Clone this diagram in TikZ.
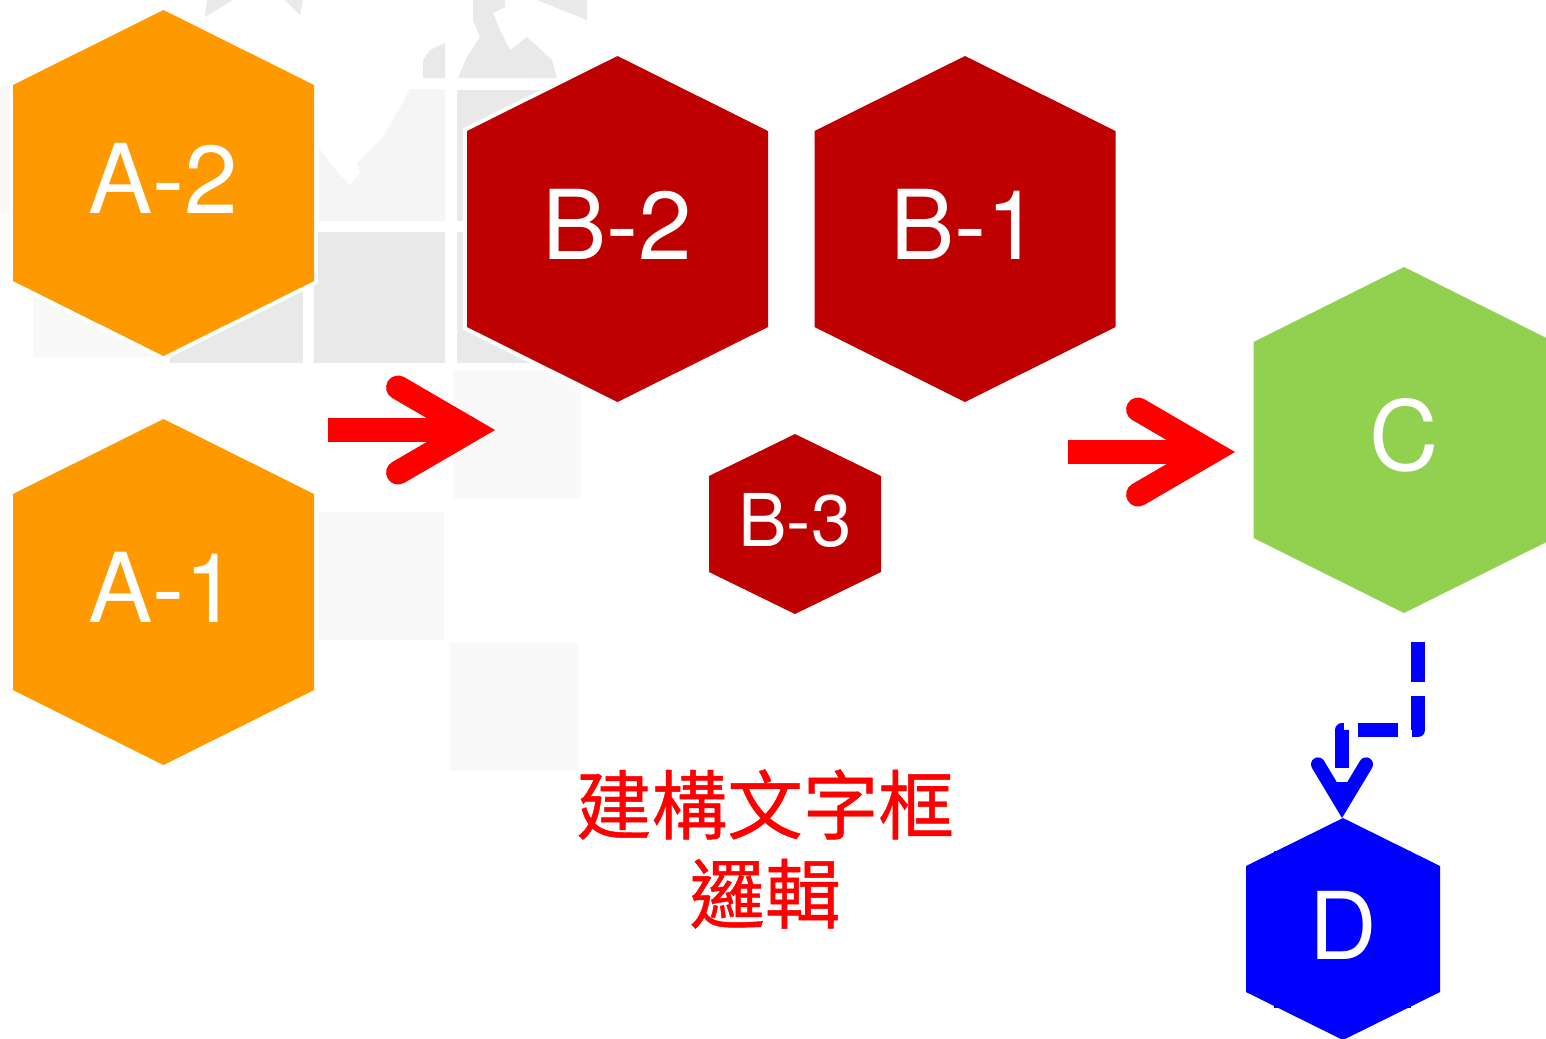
\documentclass[tikz,border=0pt]{standalone}
\usepackage{fontspec}
\setmainfont{TeX Gyre Heros}
\newfontfamily\cjkfont[FakeBold=0.6]{Noto Sans CJK TC}
\usetikzlibrary{arrows.meta}
\definecolor{hexorange}{HTML}{FF9900}
\definecolor{hexred}{HTML}{BF0000}
\definecolor{hexgreen}{HTML}{92D050}
\definecolor{hexblue}{HTML}{0000FF}
\definecolor{arrowred}{HTML}{FF0000}
\definecolor{mapdark}{HTML}{E9E9E9}
\definecolor{mapmid}{HTML}{F5F5F5}
\definecolor{maplight}{HTML}{F9F9F9}
\tikzset{
    hexfill/.style={fill=#1, preaction={draw=white, line width=.8mm, line join=miter}},
    hexlabel/.style={font=\fontsize{27.4pt}{30pt}\selectfont, text height=.7cm, text depth=.1cm},
    hexlabelsmall/.style={font=\fontsize{20.7pt}{24pt}\selectfont, text height=.53cm, text depth=.09cm},
    hexlabelblue/.style={font=\fontsize{26.6pt}{30pt}\selectfont, text height=.68cm, text depth=.08cm},
    redflow/.style={draw=arrowred, line width=2.4mm, -{Straight Barb[length=7.3mm, width=8.5mm, line cap=round, line join=miter]}},
    blueflow/.style={draw=hexblue, line width=1.4mm, line join=round, dash pattern=on 4mm off 1.4mm,
        -{Straight Barb[length=4mm, width=4.8mm, line cap=round, line join=miter, sep=0pt]}},
    notetext/.style={text=arrowred, align=center, font=\cjkfont\fontsize{21.5pt}{25.3pt}\selectfont}
}
\newcommand{\hexcell}[9]{
    \path[hexfill=#7, shift={(#2,#3)}] (0,-#5) -- (#4,#6-#5) -- (#4,#5-#6) -- (0,#5)
        -- (-#4,#5-#6) -- (-#4,#6-#5) -- cycle;
    \node[#8, text=white, inner sep=0pt, outer sep=0pt, minimum width={2*#4*0.01cm}, minimum height={2*#5*0.01cm}]
        (#1) at (#2,#3) {#9};
}
\begin{document}
\begin{tikzpicture}[x=0.01cm, y=-0.01cm]
    \useasboundingbox (0,0) rectangle (1546,1038);

    \fill[maplight] (0,87) rectangle (12,213);
    \fill[maplight] (33,290) rectangle (172,357);
    \fill[mapdark] (170,232) rectangle (303,363);
    \fill[mapdark] (314,232) rectangle (445,363);
    \fill[mapdark] (457,232) rectangle (585,363);
    \fill[mapdark] (457,90) rectangle (585,221);
    \fill[mapmid] (445,89) -- (445,221) -- (319,221) -- (319,148) -- (333,167) -- (350,185) -- (360,173)
        -- (357,163) -- (380,140) -- (387,130) -- (397,113) -- (410,89) -- cycle;
    \fill[maplight] (453,370) rectangle (581,498);
    \fill[maplight] (319,512) rectangle (444,640);
    \fill[maplight] (450,643) rectangle (578,771);
    \fill[mapdark] (473,0) -- (473,20) -- (480,37) -- (467,57) -- (458,78) -- (557,78) -- (552,60)
        -- (527,37) -- (510,50) -- (500,30) -- (493,13) -- (505,7) -- (505,0) -- cycle;
    \fill[mapdark] (537,0) -- (587,20) -- (587,0) -- cycle;
    \fill[mapdark] (423,78) -- (423,60) -- (430,50) -- (445,43) -- (445,78) -- cycle;
    \fill[mapdark] (205,17) -- (233,0) -- (207,0) -- cycle;
    \fill[mapdark] (285,0) -- (300,15) -- (303,0) -- cycle;

    \foreach \name/\cx/\cy/\col/\txt in {a2/163.5/183/hexorange/A-2, a1/163.5/592/hexorange/A-1,
        b2/617.5/229/hexred/B-2, b1/965/229/hexred/B-1}
        {\hexcell{\name}{\cx}{\cy}{150.5}{173}{75}{\col}{hexlabel}{\txt}}
    \hexcell{b3}{795}{524}{86}{90}{42}{hexred}{hexlabelsmall}{B-3}
    \hexcell{c}{1404}{440}{150.5}{173}{75}{hexgreen}{hexlabel}{C}
    \hexcell{d}{1343}{929}{97}{111}{48}{hexblue}{hexlabelblue}{D}
    \foreach \tickx/\ticky in {1274/851, 1406/851, 1274/1004, 1406/1004}
        \fill[hexblue] (\tickx,\ticky) rectangle ++(5,4);

    \coordinate (a_out) at (328,430);
    \coordinate (b_in) at (495,430);
    \coordinate (b_out) at (1068,452);
    \coordinate (c_in) at (1235,452);
    \coordinate (c_out) at (1418,642);
    \coordinate (c_bend) at (1418,730);
    \coordinate (d_bend) at (1342,730);

    \draw[redflow] (a_out) -- (b_in);
    \draw[redflow] (b_out) -- (c_in);
    \draw[blueflow] (c_out) -- (c_bend) -- (d_bend) -- (d_bend |- d.north);

    \node[notetext] (note) at (765,849) {建構文字框\\邏輯};
\end{tikzpicture}
\end{document}
